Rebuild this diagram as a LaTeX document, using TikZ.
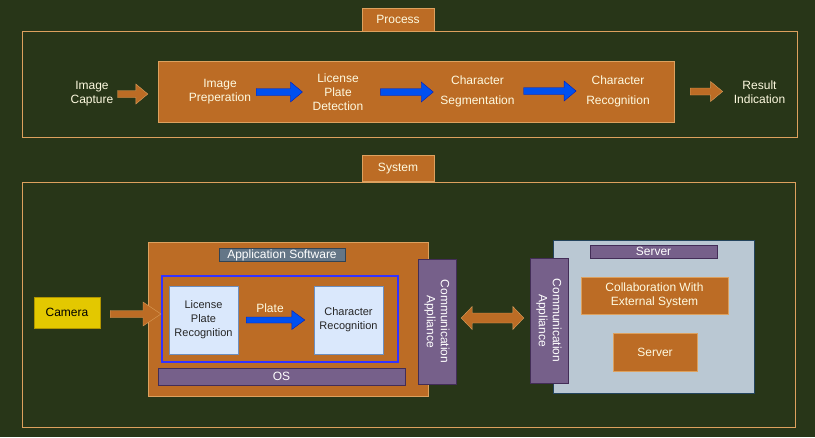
\documentclass[tikz,border=0pt]{standalone}
\usepackage{fontspec}
\setmainfont{Liberation Sans}
\usetikzlibrary{positioning,calc}

\definecolor{moss}{HTML}{283618}
\definecolor{rust}{HTML}{BC6C25}
\definecolor{sand}{HTML}{DDA15E}
\definecolor{cream}{HTML}{FEFAE0}
\definecolor{plum}{HTML}{76608A}
\definecolor{plumline}{HTML}{432D57}
\definecolor{royal}{HTML}{0050EF}
\definecolor{royalline}{HTML}{001DBC}
\definecolor{pale}{HTML}{DAE8FC}
\definecolor{paleline}{HTML}{6C8EBF}
\definecolor{steel}{HTML}{BAC8D3}
\definecolor{steelline}{HTML}{23445D}
\definecolor{slate}{HTML}{647687}
\definecolor{slateline}{HTML}{314354}
\definecolor{lemon}{HTML}{E3C800}
\definecolor{lemonline}{HTML}{B09500}
\definecolor{blueline}{HTML}{3333FF}

\tikzset{
  box/.style={draw, inner sep=0pt, align=center, font=\fontsize{12}{14}\selectfont},
  rustbox/.style={box, fill=rust, draw=sand, text=cream},
  plumbox/.style={box, fill=plum, draw=plumline, text=white},
  palebox/.style={box, fill=pale, draw=paleline, text=black!85, font=\fontsize{11}{14}\selectfont},
  frame/.style={draw=sand, line width=1pt, inner sep=0pt},
  steptext/.style={inner sep=0pt, align=center, text=cream, font=\fontsize{12}{14}\selectfont},
  orangearr/.style={fill=rust, draw=sand},
  bluearr/.style={fill=royal, draw=royalline},
  % block arrow: shaft half height, head half height, head length
  blockarr/.style n args={3}{to path={let \p1=(\tikztostart), \p2=(\tikztotarget) in
    (\x1,\y1+#1) -- (\x2-#3,\y1+#1) -- (\x2-#3,\y1+#2) -- (\x2,\y1)
    -- (\x2-#3,\y1-#2) -- (\x2-#3,\y1-#1) -- (\x1,\y1-#1) -- cycle}},
  dblarr/.style n args={3}{to path={let \p1=(\tikztostart), \p2=(\tikztotarget) in
    (\x1,\y1) -- (\x1+#3,\y1+#2) -- (\x1+#3,\y1+#1) -- (\x2-#3,\y1+#1) -- (\x2-#3,\y1+#2)
    -- (\x2,\y1) -- (\x2-#3,\y1-#2) -- (\x2-#3,\y1-#1) -- (\x1+#3,\y1-#1) -- (\x1+#3,\y1-#2) -- cycle}},
}

\begin{document}
\begin{tikzpicture}[x=1pt, y=-1pt]
\useasboundingbox[fill=moss] (0,0) rectangle (815,437);

% process
\node[frame, minimum width=775pt, minimum height=106pt] (procframe) at (409.5,84) {};
\node[rustbox, minimum width=72pt, minimum height=23pt] (proctab) at (398,19.5) {Process};
\node[rustbox, minimum width=516pt, minimum height=61pt] (procbox) at (416,91.5) {};
\node[steptext] (capture) at (92,94) {Image\\Capture};
\node[steptext] (prep) at (220,92) {Image\\Preperation};
\node[steptext] (detect) at (338,92) {License\\Plate\\Detection};
\node[steptext] (segment) at (477.5,91) {Character\\[6pt]Segmentation};
\node[steptext] (recog) at (618,91) {Character\\[6pt]Recognition};
\node[steptext] (result) at (759.5,92) {Result\\Indication};

\draw[orangearr] ([xshift=4pt]capture.east) to[blockarr={3.5pt}{10pt}{12pt}] ([xshift=-10pt]procbox.west);
\draw[bluearr] ([xshift=5pt]prep.east) to[blockarr={3.5pt}{10pt}{12pt}] ([xshift=-10pt]detect.west);
\draw[bluearr] ([xshift=17pt]detect.east) to[blockarr={3.5pt}{10pt}{12pt}] ([xshift=-7pt]segment.west);
\draw[bluearr] ([xshift=9pt]segment.east) to[blockarr={3.5pt}{10pt}{12pt}] ([xshift=-10pt]recog.west);
\draw[orangearr] ([xshift=16pt]procbox.east) to[blockarr={3.5pt}{10pt}{12pt}] ([xshift=-11pt]result.west);

% system
\node[frame, minimum width=773pt, minimum height=245pt] (sysframe) at (408.5,304.5) {};
\node[rustbox, minimum width=72pt, minimum height=26pt] (systab) at (398,168.5) {System};
\node[rustbox, minimum width=280pt, minimum height=154pt] (appsw) at (288,319) {};
\node[box, fill=slate, draw=slateline, text=white, minimum width=126pt, minimum height=13pt] (appname) at (282,255) {Application Software};
\node[draw=blueline, line width=2pt, inner sep=0pt, minimum width=236pt, minimum height=86pt] (appcore) at (280,319) {};
\node[palebox, minimum width=69pt, minimum height=68pt] (lpr) at (203.5,320) {License\\Plate\\Recognition};
\node[palebox, minimum width=69pt, minimum height=68pt] (charrec) at (348.5,320) {Character\\Recognition};
\node[steptext] (platetext) at (270,308.5) {Plate};
\node[plumbox, minimum width=247pt, minimum height=17pt] (os) at (281.5,376.5) {OS};
\node[box, fill=lemon, draw=lemonline, minimum width=66pt, minimum height=31pt] (camera) at (67,312.5) {Camera};
\node[plumbox, rotate=-90, minimum width=125pt, minimum height=38pt] (commleft) at (437,321.5) {Communication\\Appliance};

\node[box, fill=steel, draw=steelline, minimum width=201pt, minimum height=153pt] (server) at (653.5,316.5) {};
\node[plumbox, rotate=-90, minimum width=125pt, minimum height=38pt] (commright) at (549,320.5) {Communication\\Appliance};
\node[plumbox, minimum width=127pt, minimum height=13pt] (servername) at (653.5,251.5) {Server};
\node[rustbox, minimum width=147pt, minimum height=37pt] (collab) at (654.5,295.5) {Collaboration With\\External System};
\node[rustbox, minimum width=84pt, minimum height=38pt] (srv) at (655,352) {Server};

\draw[orangearr] ([xshift=10pt,yshift=-1.5pt]camera.east) to[blockarr={3.5pt}{12pt}{18pt}] (appcore.west);
\draw[bluearr] ([xshift=8pt]lpr.east) to[blockarr={3pt}{9.5pt}{13pt}] ([xshift=-9pt]charrec.west);
\draw[orangearr] ([xshift=5pt,yshift=3.5pt]commleft.north) to[dblarr={5pt}{11.5pt}{11pt}] ([xshift=-6pt]commright.south);
\end{tikzpicture}
\end{document}
